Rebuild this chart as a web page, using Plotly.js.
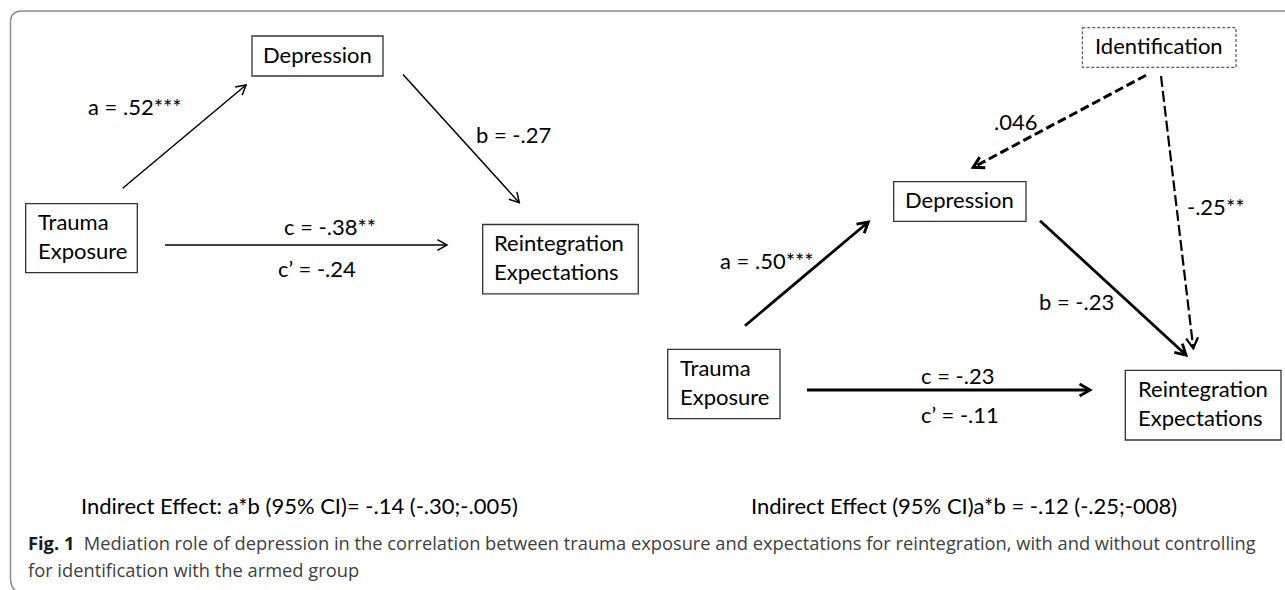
<!DOCTYPE html>
<html>
<head>
<meta charset="utf-8">
<script src="https://cdn.plot.ly/plotly-3.0.1.min.js"></script>
<style>html,body{margin:0;padding:0;background:#fff;overflow:hidden}#chart{width:1285px;height:590px}</style>
</head>
<body>
<div id="chart"></div>
<script>
// ---------- content (data) ----------
const nodeLabels = ["Depression", "Trauma<br>Exposure", "Reintegration<br>Expectations", "Identification"];
const leftCoefs = ["a = .52***", "b = -.27", "c = -.38**", "c\u2019 = -.24"];
const rightCoefs = ["a = .50***", "b = -.23", "c = -.23", "c\u2019 = -.11", ".046", "-.25**"];
const indirectEffects = ["Indirect Effect: a*b (95% CI)= -.14 (-.30;-.005)", "Indirect Effect (95% CI)a*b = -.12 (-.25;-008)"];
const captionLead = "Fig. 1";
const captionLines = ["Mediation role of depression in the correlation between trauma exposure and expectations for reintegration, with and without controlling",
                      "for identification with the armed group"];

// ---------- geometry (layout, pixel units) ----------
const FONT = "Lato, 'Open Sans', sans-serif";
const FS = 22;
const DY = -2; // text baseline nudge
const boxesL = [
  {x0:252, y0:36, x1:383, y1:76, node:0, align:'center'},
  {x0:25.7, y0:203.7, x1:137.3, y1:272.7, node:1, align:'left', tx:35.5},
  {x0:482.7, y0:224.5, x1:638.3, y1:293.8, node:2, align:'left', tx:491.5}
];
const boxesR = [
  {x0:893.7, y0:181.7, x1:1026, y1:221.3, node:0, align:'center'},
  {x0:667.7, y0:349.3, x1:780, y1:418.7, node:1, align:'left', tx:678},
  {x0:1125.3, y0:370.3, x1:1281, y1:440, node:2, align:'left', tx:1135.5},
  {x0:1082.3, y0:27.7, x1:1236, y1:67.3, node:3, align:'center', dashed:true}
];
const arrowsL = [
  [122.7,188.3,246,85], [403,74.5,519.3,202.7], [165,245,447,245]
];
const arrowsR = [
  {p:[745,325.7,868.3,222]}, {p:[1040,220.7,1186,355]}, {p:[807,390,1090,390]},
  {p:[1146,75.3,973.3,167.3], dash:'9px,4px', w:3},
  {p:[1161,76,1193.3,348.3], dash:'11px,4px', w:2.2}
];
const coefPosL = [
  {x:86, y:108, xa:'left'}, {x:474, y:136, xa:'left'}, {x:330, y:228, xa:'center'}, {x:317, y:270, xa:'center'}
];
const coefPosR = [
  {x:718, y:262, xa:'left'}, {x:1037, y:303, xa:'left'}, {x:957, y:377, xa:'center'}, {x:960, y:416, xa:'center'},
  {x:1015, y:123, xa:'center'}, {x:1185, y:208, xa:'left'}
];

const shapes = [];
const annotations = [];

// outer frame
shapes.push({type:'path', xref:'x', yref:'y', path:'M 1295,11 L 22,11 Q 10.5,11 10.5,22 L 10.5,578 Q 10.5,590 20,593',
  line:{color:'#8a8a8a', width:1.5}});

function addBox(b){
  shapes.push({type:'rect', xref:'x', yref:'y', x0:b.x0, y0:b.y0, x1:b.x1, y1:b.y1,
    line:{color:'#333', width: b.dashed ? 1 : 1.3, dash: b.dashed ? '3px,2px' : 'solid'}, fillcolor:'rgba(0,0,0,0)'});
  const cy = (b.y0 + b.y1) / 2 + DY;
  annotations.push({xref:'x', yref:'y', x: b.align === 'center' ? (b.x0+b.x1)/2 : b.tx, y: cy,
    xanchor: b.align, yanchor:'middle', align:'left', showarrow:false, text: nodeLabels[b.node],
    font:{family:FONT, size:FS, color:'#000'}});
}
function addArrow(p, w, dash, L){
  const [x0,y0,x1,y1] = p;
  const ang = Math.atan2(y1-y0, x1-x0);
  const th = 0.52;
  shapes.push({type:'line', xref:'x', yref:'y', x0, y0, x1, y1, line:{color:'#000', width:w, dash: dash || 'solid'}});
  const ax = x1 + L*Math.cos(ang+Math.PI-th), ay = y1 + L*Math.sin(ang+Math.PI-th);
  const bx = x1 + L*Math.cos(ang+Math.PI+th), by = y1 + L*Math.sin(ang+Math.PI+th);
  shapes.push({type:'path', xref:'x', yref:'y', path:`M ${ax},${ay} L ${x1},${y1} L ${bx},${by}`, line:{color:'#000', width:w}});
}
boxesL.forEach(addBox);
boxesR.forEach(addBox);
arrowsL.forEach(p => addArrow(p, 1.5, null, 11));
arrowsR.forEach(a => addArrow(a.p, a.w || 2.8, a.dash, 12));

leftCoefs.forEach((t,i) => annotations.push({xref:'x', yref:'y', x:coefPosL[i].x, y:coefPosL[i].y + DY, xanchor:coefPosL[i].xa, yanchor:'middle',
  showarrow:false, text:t, font:{family:FONT, size:FS, color:'#000'}}));
rightCoefs.forEach((t,i) => annotations.push({xref:'x', yref:'y', x:coefPosR[i].x, y:coefPosR[i].y + DY, xanchor:coefPosR[i].xa, yanchor:'middle',
  showarrow:false, text:t, font:{family:FONT, size:FS, color:'#000'}}));

annotations.push({xref:'x', yref:'y', x:79, y:507 + DY, xanchor:'left', yanchor:'middle', showarrow:false, text:indirectEffects[0], font:{family:FONT, size:FS, color:'#000'}});
annotations.push({xref:'x', yref:'y', x:749, y:507 + DY, xanchor:'left', yanchor:'middle', showarrow:false, text:indirectEffects[1], font:{family:FONT, size:FS, color:'#000'}});

const CFONT = "'Open Sans', sans-serif";
const CFS = 18.3;
annotations.push({xref:'x', yref:'y', x:26, y:542, xanchor:'left', yanchor:'middle', showarrow:false,
  text:`<b>${captionLead}</b>  <span style="color:#404040">${captionLines[0]}</span>`, font:{family:CFONT, size:CFS, color:'#1a1a1a'}});
annotations.push({xref:'x', yref:'y', x:26, y:569, xanchor:'left', yanchor:'middle', showarrow:false,
  text:captionLines[1], font:{family:CFONT, size:CFS, color:'#404040'}});

const layout = {
  width:1285, height:590, margin:{l:0, r:0, t:0, b:0},
  paper_bgcolor:'#fff', plot_bgcolor:'#fff', showlegend:false,
  xaxis:{range:[0,1285], visible:false, fixedrange:true},
  yaxis:{range:[590,0], visible:false, fixedrange:true},
  shapes, annotations
};
Plotly.newPlot('chart', [], layout, {displayModeBar:false, staticPlot:true});
</script>
</body>
</html>
